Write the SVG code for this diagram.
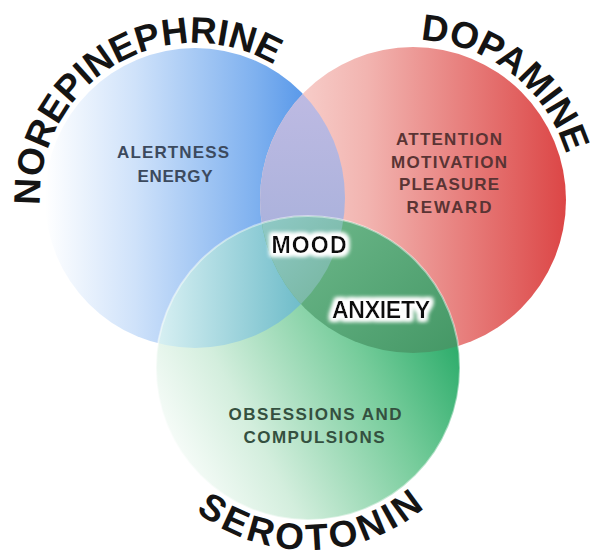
<svg xmlns="http://www.w3.org/2000/svg" width="597" height="559" viewBox="0 0 597 559">
<defs>
<style>
.title{font-family:"Liberation Sans",Arial,sans-serif;font-weight:bold;font-size:37px;fill:#141414}
.lbl{font-family:"Liberation Sans",Arial,sans-serif;font-weight:bold;font-size:17px;text-anchor:middle}
.big{font-family:"Liberation Sans",Arial,sans-serif;font-weight:bold;font-size:23px;text-anchor:middle;fill:#111}
.rim{fill:none;stroke:#ffffff;stroke-opacity:0.45;stroke-width:2}
</style>
<linearGradient id="gBlue" gradientUnits="userSpaceOnUse" x1="45" y1="0" x2="345" y2="0">
<stop offset="0" stop-color="#ffffff"/>
<stop offset="0.3" stop-color="#cfe2fa"/>
<stop offset="0.7" stop-color="#7fb1ef"/>
<stop offset="1" stop-color="#3a85e5"/>
</linearGradient>
<linearGradient id="gRed" gradientUnits="userSpaceOnUse" x1="260" y1="0" x2="566" y2="0">
<stop offset="0" stop-color="#fadcd8"/>
<stop offset="0.35" stop-color="#f2b4b0"/>
<stop offset="1" stop-color="#dc4646"/>
</linearGradient>
<linearGradient id="gGreen" gradientUnits="userSpaceOnUse" x1="170" y1="480" x2="455" y2="330">
<stop offset="0" stop-color="#ffffff"/>
<stop offset="0.3" stop-color="#d3eedd"/>
<stop offset="0.7" stop-color="#76cc9b"/>
<stop offset="1" stop-color="#2aab69"/>
</linearGradient>
<linearGradient id="gBG" gradientUnits="userSpaceOnUse" x1="160" y1="0" x2="300" y2="0">
<stop offset="0" stop-color="#d6eff2"/>
<stop offset="1" stop-color="#70bdca"/>
</linearGradient>
<linearGradient id="gRG" gradientUnits="userSpaceOnUse" x1="340" y1="230" x2="455" y2="350">
<stop offset="0" stop-color="#66b284"/>
<stop offset="1" stop-color="#459866"/>
</linearGradient>
<linearGradient id="gBR" gradientUnits="userSpaceOnUse" x1="0" y1="60" x2="0" y2="230">
<stop offset="0" stop-color="#c2bce4"/>
<stop offset="1" stop-color="#abb2dc"/>
</linearGradient>
<linearGradient id="gC" gradientUnits="userSpaceOnUse" x1="265" y1="225" x2="350" y2="300">
<stop offset="0" stop-color="#8ec8c4"/>
<stop offset="1" stop-color="#74b49c"/>
</linearGradient>
<clipPath id="cBlue"><circle cx="195" cy="198" r="150"/></clipPath>
<clipPath id="cRed"><circle cx="413" cy="200" r="153"/></clipPath>
<filter id="glow" x="-20%" y="-50%" width="140%" height="200%">
<feMorphology in="SourceAlpha" operator="dilate" radius="3" result="d"/>
<feGaussianBlur in="d" stdDeviation="2" result="b"/>
<feFlood flood-color="#ffffff"/>
<feComposite in2="b" operator="in" result="w"/>
<feMerge><feMergeNode in="w"/><feMergeNode in="w"/><feMergeNode in="SourceGraphic"/></feMerge>
</filter>
<path id="arcN" d="M40.1,203.4 A155,155 0 0,1 272.5,63.8"/>
<path id="arcD" d="M418.6,40.1 A160,160 0 0,1 566.8,155.9"/>
<path id="arcS" d="M195.9,511.4 A182,182 0 0,0 427.4,505.4"/>
</defs>
<rect width="597" height="559" fill="#ffffff"/>

<g id="norepinephrine">
<circle cx="195" cy="198" r="150" fill="url(#gBlue)"/>
</g>
<g id="dopamine">
<circle cx="413" cy="200" r="153" fill="url(#gRed)"/>
</g>
<g id="serotonin">
<circle cx="308" cy="368" r="152" fill="url(#gGreen)"/>
</g>

<g id="overlaps">
<g clip-path="url(#cBlue)"><circle cx="413" cy="200" r="153" fill="url(#gBR)"/></g>
<g clip-path="url(#cBlue)"><circle cx="308" cy="368" r="152" fill="url(#gBG)"/></g>
<g clip-path="url(#cRed)"><circle cx="308" cy="368" r="152" fill="url(#gRG)"/></g>
<g clip-path="url(#cBlue)"><g clip-path="url(#cRed)"><circle cx="308" cy="368" r="152" fill="url(#gC)"/></g></g>
<circle class="rim" cx="308" cy="368" r="152"/>
</g>

<g id="titles">
<text class="title"><textPath href="#arcN" startOffset="50%" text-anchor="middle">NOREPINEPHRINE</textPath></text>
<text class="title"><textPath href="#arcD" startOffset="50%" text-anchor="middle">DOPAMINE</textPath></text>
<text class="title" letter-spacing="3.5"><textPath href="#arcS" startOffset="50%" text-anchor="middle">SEROTONIN</textPath></text>
</g>

<g id="labels">
<text class="lbl" fill="#3c4a5e" x="173" y="158" textLength="112">ALERTNESS</text>
<text class="lbl" fill="#3c4a5e" x="175" y="182" textLength="75">ENERGY</text>
<text class="lbl" fill="#5a3434" x="449" y="145" textLength="106">ATTENTION</text>
<text class="lbl" fill="#5a3434" x="449" y="168" textLength="116">MOTIVATION</text>
<text class="lbl" fill="#5a3434" x="449" y="190" textLength="100">PLEASURE</text>
<text class="lbl" fill="#5a3434" x="449" y="213" textLength="85">REWARD</text>
<text class="lbl" fill="#34503f" x="315" y="420" textLength="173">OBSESSIONS AND</text>
<text class="lbl" fill="#34503f" x="314" y="443" textLength="141">COMPULSIONS</text>
<text class="big" filter="url(#glow)" x="309" y="253" textLength="75">MOOD</text>
<text class="big" filter="url(#glow)" x="381" y="318" textLength="98">ANXIETY</text>
</g>
</svg>
